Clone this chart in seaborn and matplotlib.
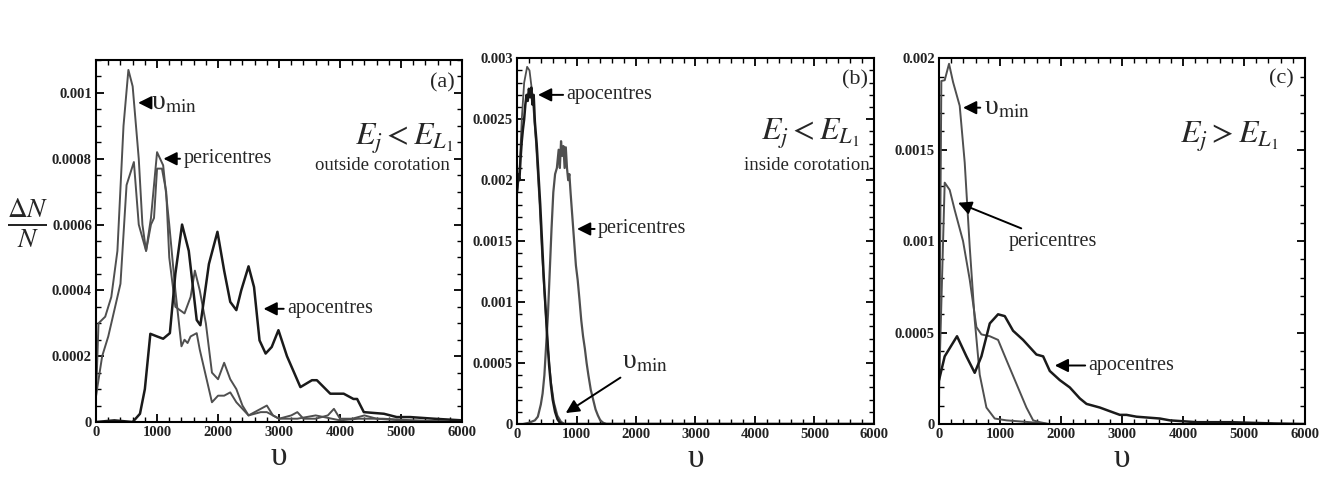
import numpy as np
import pandas as pd
import matplotlib
matplotlib.use("Agg")
import matplotlib.pyplot as plt
import seaborn as sns
from matplotlib.ticker import MultipleLocator

# ---------------- data ----------------
# panel (a): E_j < E_L1, outside corotation
a_vmin_x = [0, 40, 150, 250, 350, 450, 530, 600, 700, 760, 820, 900, 950, 1000, 1080, 1150, 1200, 1300,
            1450, 1550, 1620, 1700, 1800, 1900, 2000, 2100, 2200, 2300, 2400, 2500, 2600, 2700, 2800,
            2900, 3000, 3200, 3300, 3400, 3600, 3800, 3900, 4000, 4200, 4400, 4600, 5000, 6000]
a_vmin_y = [0.00008, 0.00030, 0.00032, 0.00038, 0.00052, 0.00090, 0.00107, 0.00102, 0.00080, 0.00060,
            0.00052, 0.00060, 0.00062, 0.00077, 0.00077, 0.00070, 0.00050, 0.00035, 0.00033, 0.00038,
            0.00046, 0.00040, 0.00030, 0.00015, 0.00013, 0.00018, 0.00013, 0.00010, 0.00005, 0.00002,
            0.00003, 0.00004, 0.00005, 0.00002, 0.00001, 0.00002, 0.00003, 0.00001, 0.00001, 0.00002,
            0.00004, 0.00001, 0.00001, 0.00002, 0.00001, 0.000005, 0.0]
a_peri_x = [0, 100, 200, 300, 400, 500, 620, 700, 820, 900, 1000, 1100, 1200, 1300, 1400, 1450, 1500,
            1550, 1650, 1700, 1800, 1900, 2000, 2100, 2200, 2300, 2400, 2500, 2700, 2800, 3000, 3300,
            3600, 4000, 4300, 4700, 5200, 6000]
a_peri_y = [0.00008, 0.00020, 0.00026, 0.00034, 0.00042, 0.00072, 0.00079, 0.00060, 0.00052, 0.00062,
            0.00082, 0.00078, 0.00060, 0.00040, 0.00023, 0.00025, 0.00024, 0.00026, 0.00027, 0.00022,
            0.00014, 0.00006, 0.00008, 0.00008, 0.00009, 0.00006, 0.00004, 0.00002, 0.00003, 0.00003,
            0.00001, 0.00001, 0.00002, 0.000005, 0.00001, 0.00001, 0.000005, 0.0]
a_apo_x = [0, 300, 600, 720, 800, 890, 1000, 1100, 1210, 1300, 1410, 1520, 1650, 1710, 1850, 1990,
           2100, 2200, 2300, 2380, 2500, 2590, 2680, 2780, 2880, 2990, 3130, 3350, 3540, 3620, 3840,
           4060, 4220, 4280, 4390, 4720, 4930, 5150, 5540, 6000]
a_apo_y = [0.0, 0.000005, 0.0, 0.000025, 0.00010, 0.000268, 0.00026, 0.000253, 0.00027, 0.00045,
           0.00060, 0.00052, 0.00031, 0.000294, 0.00048, 0.000578, 0.00046, 0.000365, 0.00034, 0.00040,
           0.000473, 0.00041, 0.000248, 0.000208, 0.000228, 0.000279, 0.00020, 0.000106, 0.000127,
           0.000127, 0.000086, 0.000086, 0.00007, 0.00007, 0.00003, 0.000025, 0.000015, 0.000015,
           0.00001, 0.000005]

# panel (b): E_j < E_L1, inside corotation
b_apo_x = [0, 20, 40, 60, 80, 100, 120, 140, 160, 180, 200, 220, 240, 260, 280, 300, 330, 360, 390,
           420, 450, 480, 510, 540, 570, 600, 640, 680, 720, 760, 6000]
b_apo_y = [0.0019, 0.00205, 0.0020, 0.00218, 0.00232, 0.00242, 0.0025, 0.00262, 0.0027, 0.00265,
           0.00275, 0.00268, 0.00276, 0.00262, 0.0027, 0.00248, 0.0023, 0.00205, 0.0018, 0.0015,
           0.0012, 0.00095, 0.0007, 0.00048, 0.00032, 0.0002, 0.0001, 0.00004, 0.00001, 0.0, 0.0]
b_vmin_x = [0, 40, 80, 120, 170, 210, 260, 320, 380, 420, 470, 520, 570, 620, 680, 740, 800, 6000]
b_vmin_y = [0.0019, 0.00205, 0.0025, 0.0028, 0.00293, 0.0029, 0.0027, 0.0023, 0.0018, 0.0014, 0.0010,
            0.00062, 0.00035, 0.00018, 0.00007, 0.00002, 0.0, 0.0]
b_peri_x = [0, 100, 200, 300, 350, 400, 430, 460, 490, 520, 550, 580, 610, 640, 670, 700, 720, 740,
            760, 780, 800, 820, 840, 860, 880, 900, 930, 960, 990, 1020, 1050, 1080, 1110, 1140, 1170,
            1200, 1240, 1280, 1320, 1360, 1400, 1450, 1500, 6000]
b_peri_y = [0.0, 0.0, 0.00001, 0.00003, 0.00006, 0.00016, 0.00025, 0.0004, 0.00065, 0.0009, 0.00125,
            0.0016, 0.0019, 0.00205, 0.0021, 0.00225, 0.0021, 0.00232, 0.0022, 0.00228, 0.0021, 0.00227,
            0.0021, 0.0020, 0.00205, 0.0019, 0.0017, 0.0015, 0.0013, 0.00118, 0.00102, 0.00085,
            0.00072, 0.00062, 0.0005, 0.0004, 0.00028, 0.0002, 0.00012, 0.00007, 0.00003, 0.00001,
            0.0, 0.0]

# panel (c): E_j > E_L1
c_vmin_x = [0, 38, 93, 164, 230, 339, 421, 503, 585, 667, 777, 913, 1105, 1488, 1800, 6000]
c_vmin_y = [0.0001, 0.001876, 0.00188, 0.00197, 0.00187, 0.00174, 0.00143, 0.00097, 0.00057, 0.00027,
            0.00009, 0.00003, 0.00002, 0.00001, 0.0, 0.0]
c_peri_x = [0, 93, 175, 257, 394, 503, 613, 695, 832, 968, 1105, 1269, 1433, 1543, 1652, 1800, 6000]
c_peri_y = [0.0002, 0.00132, 0.00128, 0.00117, 0.0010, 0.00079, 0.00053, 0.00049, 0.00048, 0.00046,
            0.00035, 0.00022, 0.00009, 0.00002, 0.00001, 0.0, 0.0]
c_apo_x = [0, 93, 295, 449, 585, 695, 832, 968, 1078, 1214, 1378, 1597, 1707, 1816, 1980, 2144, 2308,
           2418, 2637, 2800, 2965, 3074, 3238, 3621, 3785, 4223, 4770, 5500, 6000]
c_apo_y = [0.00024, 0.00037, 0.00048, 0.00037, 0.00028, 0.00037, 0.00055, 0.0006, 0.00059, 0.00051,
           0.00046, 0.00038, 0.00037, 0.00029, 0.00024, 0.0002, 0.00014, 0.00011, 0.00009, 0.00007,
           0.00005, 0.00005, 0.00004, 0.00003, 0.00002, 0.00001, 0.00001, 0.000003, 0.0]

x_ticks = [0, 1000, 2000, 3000, 4000, 5000, 6000]
a_yticks = [0, 0.0002, 0.0004, 0.0006, 0.0008, 0.001]
a_yticklabels = ["0", "0.0002", "0.0004", "0.0006", "0.0008", "0.001"]
b_yticks = [0, 0.0005, 0.001, 0.0015, 0.002, 0.0025, 0.003]
b_yticklabels = ["0", "0.0005", "0.001", "0.0015", "0.002", "0.0025", "0.003"]
c_yticks = [0, 0.0005, 0.001, 0.0015, 0.002]
c_yticklabels = ["0", "0.0005", "0.001", "0.0015", "0.002"]

# ---------------- style ----------------
sns.set_style("ticks")
plt.rcParams["font.family"] = ["Liberation Serif", "DejaVu Serif"]
plt.rcParams["mathtext.fontset"] = "stix"

BLACK = "#1a1a1a"
GRAY = "#4f4f4f"
SERIF = ["Liberation Serif", "DejaVu Serif"]
VMIN = "υ$_{\\rm min}$"

fig = plt.figure(figsize=(13.25, 4.79), dpi=100)
axa = fig.add_axes([0.0725, 0.119, 0.2762, 0.7557])
axb = fig.add_axes([0.3902, 0.1148, 0.2694, 0.7635])
axc = fig.add_axes([0.7087, 0.1148, 0.2762, 0.7635])


def draw(ax, x, y, color, lw):
    df = pd.DataFrame({"v": x, "n": y})
    sns.lineplot(data=df, x="v", y="n", ax=ax, color=color, lw=lw, sort=False,
                 estimator=None, legend=False)


draw(axa, a_vmin_x, a_vmin_y, GRAY, 1.4)
draw(axa, a_peri_x, a_peri_y, GRAY, 1.4)
draw(axa, a_apo_x, a_apo_y, BLACK, 1.8)

draw(axb, b_peri_x, b_peri_y, GRAY, 1.6)
draw(axb, b_vmin_x, b_vmin_y, GRAY, 1.3)
draw(axb, b_apo_x, b_apo_y, BLACK, 1.8)

draw(axc, c_vmin_x, c_vmin_y, GRAY, 1.4)
draw(axc, c_peri_x, c_peri_y, GRAY, 1.4)
draw(axc, c_apo_x, c_apo_y, BLACK, 1.8)


def style(ax, ymax, yticks, ylabels, yminor):
    ax.set_xlim(0, 6000)
    ax.set_ylim(0, ymax)
    ax.set_xticks(x_ticks)
    ax.set_xticklabels([str(t) for t in x_ticks])
    ax.set_yticks(yticks)
    ax.set_yticklabels(ylabels)
    ax.xaxis.set_minor_locator(MultipleLocator(200))
    ax.yaxis.set_minor_locator(MultipleLocator(yminor))
    ax.tick_params(which="both", direction="in", top=True, right=True, color="black")
    ax.tick_params(which="major", length=6, width=1.3, labelsize=10.5, pad=3)
    ax.tick_params(which="minor", length=3.5, width=1.0)
    for lab in ax.get_xticklabels() + ax.get_yticklabels():
        lab.set_fontweight("bold")
        lab.set_family(SERIF)
        lab.set_color("#222222")
    for s in ax.spines.values():
        s.set_linewidth(1.5)
        s.set_color("black")
    ax.set_xlabel("")
    ax.set_ylabel("")
    ax.text(0.5, -0.095, "υ", transform=ax.transAxes, fontsize=24,
            ha="center", va="center")
    ax.grid(False)


style(axa, 0.0011, a_yticks, a_yticklabels, 0.00005)
style(axb, 0.003, b_yticks, b_yticklabels, 0.0001)
style(axc, 0.002, c_yticks, c_yticklabels, 0.0001)

fig.text(0.021, 0.535, r"$\frac{\Delta N}{N}$", fontsize=28, ha="center", va="center")

arrow = dict(arrowstyle="-|>", color="black", lw=1.4, mutation_scale=20, shrinkA=0, shrinkB=0)
TFS = 14.5

# panel (a)
axa.annotate(VMIN, xy=(690, 0.00097), xytext=(900, 0.00097), fontsize=20,
             va="center", ha="left", arrowprops=arrow)
axa.annotate("pericentres", xy=(1105, 0.0008), xytext=(1430, 0.0008), fontsize=TFS,
             va="center", ha="left", arrowprops=arrow)
axa.annotate("apocentres", xy=(2746, 0.000344), xytext=(3130, 0.000344), fontsize=TFS,
             va="center", ha="left", arrowprops=arrow)
axa.text(5880, 0.00103, "(a)", fontsize=16, ha="right", va="center")
axa.text(5860, 0.00086, r"$E_j < E_{L_1}$", fontsize=23, ha="right", va="center")
axa.text(5800, 0.00078, "outside corotation", fontsize=13.5, ha="right", va="center")

# panel (b)
axb.annotate("apocentres", xy=(353, 0.0027), xytext=(830, 0.0027), fontsize=TFS,
             va="center", ha="left", arrowprops=arrow)
axb.annotate("pericentres", xy=(1009, 0.0016), xytext=(1360, 0.0016), fontsize=TFS,
             va="center", ha="left", arrowprops=arrow)
axb.annotate(VMIN, xy=(819, 0.00009), xytext=(1760, 0.00051), fontsize=20,
             va="center", ha="left", arrowprops=arrow)
axb.text(5900, 0.00282, "(b)", fontsize=16, ha="right", va="center")
axb.text(5760, 0.00238, r"$E_j < E_{L_1}$", fontsize=23, ha="right", va="center")
axb.text(5930, 0.00212, "inside corotation", fontsize=13.5, ha="right", va="center")

# panel (c)
axc.annotate(VMIN, xy=(394, 0.00173), xytext=(730, 0.00173), fontsize=20,
             va="center", ha="left", arrowprops=arrow)
axc.annotate("pericentres", xy=(312, 0.00121), xytext=(1140, 0.001), fontsize=TFS,
             va="center", ha="left", arrowprops=arrow)
axc.annotate("apocentres", xy=(1898, 0.00032), xytext=(2450, 0.00032), fontsize=TFS,
             va="center", ha="left", arrowprops=arrow)
axc.text(5820, 0.00189, "(c)", fontsize=16, ha="right", va="center")
axc.text(5560, 0.00157, r"$E_j > E_{L_1}$", fontsize=23, ha="right", va="center")

fig.savefig("out.png", dpi=100)
